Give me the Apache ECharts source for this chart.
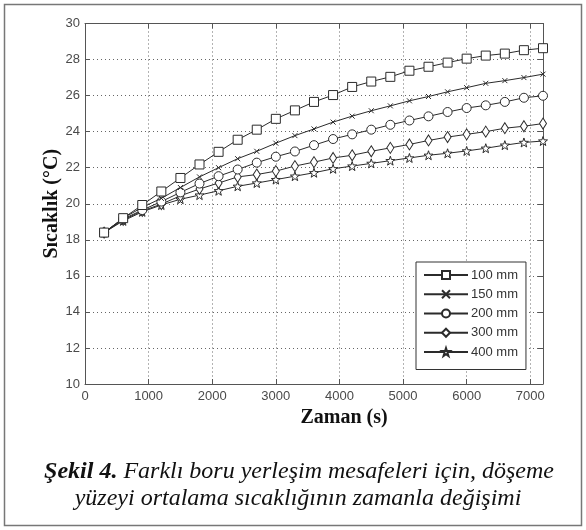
<!DOCTYPE html>
<html>
<head>
<meta charset="utf-8">
<script src="https://cdn.jsdelivr.net/npm/echarts@6/dist/echarts.min.js"></script>
<style>
  html, body { margin: 0; padding: 0; background: #fff; }
  #chart { width: 586px; height: 530px; }
</style>
</head>
<body>
<div id="chart"></div>
<script>
// zaman (s), her 300 s
const times = [300, 600, 900, 1200, 1500, 1800, 2100, 2400, 2700, 3000, 3300, 3600,
  3900, 4200, 4500, 4800, 5100, 5400, 5700, 6000, 6300, 6600, 6900, 7200]

const seriesNames = ['100 mm', '150 mm', '200 mm', '300 mm', '400 mm']

const t100 = [18.4, 19.2, 19.93, 20.68, 21.43, 22.18, 22.88, 23.55, 24.11, 24.71, 25.18, 25.65,
  26.03, 26.48, 26.78, 27.04, 27.38, 27.6, 27.83, 28.05, 28.22, 28.33, 28.52, 28.63]
const t150 = [18.4, 19.2, 19.8, 20.3, 20.9, 21.49, 22.0, 22.5, 22.91, 23.36, 23.78, 24.15,
  24.53, 24.86, 25.16, 25.43, 25.71, 25.95, 26.21, 26.44, 26.68, 26.83, 27.0, 27.19]
const t200 = [18.4, 19.15, 19.65, 20.12, 20.63, 21.12, 21.53, 21.9, 22.28, 22.61, 22.9, 23.25,
  23.59, 23.85, 24.11, 24.38, 24.62, 24.85, 25.09, 25.31, 25.46, 25.65, 25.88, 25.99]
const t300 = [18.4, 19.1, 19.6, 19.98, 20.44, 20.82, 21.15, 21.49, 21.62, 21.81, 22.09, 22.31,
  22.54, 22.69, 22.91, 23.1, 23.29, 23.51, 23.7, 23.85, 24.0, 24.19, 24.3, 24.45]
const t400 = [18.4, 19.05, 19.55, 19.93, 20.25, 20.48, 20.72, 20.97, 21.15, 21.34, 21.53, 21.72,
  21.94, 22.09, 22.24, 22.39, 22.54, 22.69, 22.8, 22.93, 23.08, 23.25, 23.4, 23.48]

const xTicks = [0, 1000, 2000, 3000, 4000, 5000, 6000, 7000]
const yTicks = [10, 12, 14, 16, 18, 20, 22, 24, 26, 28, 30]

const lineColor = '#2b2b2b'
const tickFont = { color: '#4a4a4a', fontSize: 13, fontFamily: 'Liberation Sans, Arial, sans-serif' }

// MATLAB benzeri işaretler
const starPath = 'path://M5,0L6.2,3.5L10,3.6L7,5.9L8.1,9.5L5,7.4L1.9,9.5L3,5.9L0,3.6L3.8,3.5Z'
const crossPath = 'path://M0,0L10,10M10,0L0,10'
const markers = [
  { symbol: 'rect', size: 9 },
  { symbol: crossPath, size: 5 },
  { symbol: 'circle', size: 9 },
  { symbol: 'diamond', size: [7, 11] },
  { symbol: starPath, size: 9 }
]
const allData = [t100, t150, t200, t300, t400]

const chart = echarts.init(document.getElementById('chart'))

const axisBase = {
  axisLine: { show: true, onZero: false, lineStyle: { color: '#555', width: 1 } },
  axisTick: { show: true, inside: true, length: 5, lineStyle: { color: '#555' } },
  splitLine: { show: false }
}

const option = {
  backgroundColor: '#fff',
  animation: false,
  grid: { left: 85, right: 43, top: 23.5, bottom: 146 },
  legend: {
    orient: 'vertical',
    left: 416,
    top: 262,
    width: 111,
    padding: [6.5, 8, 11, 7],
    itemGap: 6.25,
    itemWidth: 44,
    itemHeight: 10,
    backgroundColor: '#fff',
    borderColor: '#333',
    borderWidth: 1,
    borderRadius: 0,
    textStyle: { color: '#333', fontSize: 13, fontFamily: 'Liberation Sans, Arial, sans-serif', padding: [0, 0, 0, -2] },
    data: seriesNames
  },
  xAxis: [
    Object.assign({}, axisBase, {
      type: 'value', min: 0, max: 7200, interval: 1000, position: 'bottom',
      axisLabel: Object.assign({}, tickFont, {
        margin: 6,
        formatter: v => xTicks.includes(v) ? String(v) : ''
      }),
      splitLine: { show: true, lineStyle: { color: '#666', type: [1, 3], width: 1 } }
    }),
    Object.assign({}, axisBase, {
      type: 'value', min: 0, max: 7200, interval: 1000, position: 'top',
      axisLabel: { show: false }
    })
  ],
  yAxis: [
    Object.assign({}, axisBase, {
      type: 'value', min: 10, max: 30, interval: 2, position: 'left',
      axisLabel: Object.assign({}, tickFont, {
        margin: 5,
        formatter: v => yTicks.includes(v) ? String(v) : ''
      }),
      splitLine: { show: true, lineStyle: { color: '#666', type: [1, 3], width: 1 } },
      name: 'Sıcaklık (°C)',
      nameLocation: 'middle',
      nameGap: 23,
      nameMoveOverlap: false,
      nameRotate: 90,
      nameTextStyle: { color: '#111', fontSize: 20, fontWeight: 'bold', fontFamily: 'Liberation Serif, Times New Roman, serif' }
    }),
    Object.assign({}, axisBase, {
      type: 'value', min: 10, max: 30, interval: 2, position: 'right',
      axisLabel: { show: false }
    })
  ],
  series: seriesNames.map((name, i) => ({
    name: name,
    type: 'line',
    xAxisIndex: 0,
    yAxisIndex: 0,
    data: times.map((t, k) => [t, allData[i][k]]),
    symbol: markers[i].symbol,
    symbolSize: markers[i].size,
    showAllSymbol: true,
    lineStyle: { color: lineColor, width: 1 },
    itemStyle: { color: i === 1 ? lineColor : '#fff', borderColor: lineColor, borderWidth: 1 },
    z: 10 - i
  })),
  graphic: [
    {
      type: 'rect',
      shape: { x: 4.5, y: 4.5, width: 577, height: 521 },
      style: { fill: 'none', stroke: '#777', lineWidth: 1.5 },
      silent: true
    },
    {
      type: 'text',
      x: 344, y: 418,
      style: {
        text: 'Zaman (s)',
        fill: '#111',
        font: 'bold 20px "Liberation Serif", "Times New Roman", serif',
        align: 'center', verticalAlign: 'middle'
      }
    },
    {
      type: 'text',
      x: 299, y: 472,
      style: {
        text: '{b|Şekil 4.} Farklı boru yerleşim mesafeleri için, döşeme',
        fill: '#111',
        font: 'italic 24px "Liberation Serif", "Times New Roman", serif',
        align: 'center', verticalAlign: 'middle',
        rich: {
          b: { fontWeight: 'bold', fontStyle: 'italic', fontSize: 24, fontFamily: 'Liberation Serif', fill: '#111' }
        }
      }
    },
    {
      type: 'text',
      x: 298, y: 499,
      style: {
        text: 'yüzeyi ortalama sıcaklığının zamanla değişimi',
        fill: '#111',
        font: 'italic 24px "Liberation Serif", "Times New Roman", serif',
        align: 'center', verticalAlign: 'middle'
      }
    }
  ]
}

chart.setOption(option)
</script>
</body>
</html>
